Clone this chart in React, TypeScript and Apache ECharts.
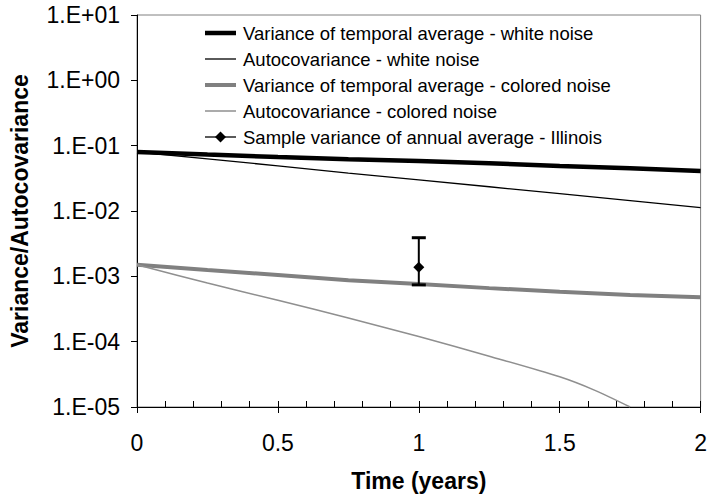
import React, { useEffect, useRef } from "react";
import * as echarts from "echarts";

const timeGrid = [0, 0.25, 0.5, 0.75, 1.0, 1.25, 1.5, 1.75, 2.0];
const varWhite = [0.08, 0.073, 0.067, 0.062, 0.058, 0.054, 0.049, 0.045, 0.041];
const autoWhite = [0.08, 0.063, 0.049, 0.038, 0.03, 0.0235, 0.0184, 0.0144, 0.0113];
const varColored = [1.5e-3, 1.25e-3, 1.05e-3, 8.7e-4, 7.6e-4, 6.6e-4, 5.8e-4, 5.2e-4, 4.8e-4];
const autoColoredTime = [0, 0.25, 0.5, 0.75, 1.0, 1.25, 1.5, 1.625, 1.75];
const autoColored = [1.5e-3, 7.9e-4, 4.3e-4, 2.3e-4, 1.2e-4, 6.0e-5, 2.9e-5, 1.8e-5, 1.0e-5];
const sampleTime = [1];
const sampleMean = [1.38e-3];
const sampleLow = [7.4e-4];
const sampleHigh = [3.9e-3];

const seriesNames = [
  "Variance of temporal average - white noise",
  "Autocovariance - white noise",
  "Variance of temporal average - colored noise",
  "Autocovariance - colored noise",
  "Sample variance of annual average - Illinois",
];
const seriesColors = ["#000000", "#000000", "#808080", "#8f8f8f", "#000000"];
const seriesWidths = [4.5, 1.3, 4, 1.5, 1.3];

const FONT = "'Liberation Sans', Arial, sans-serif";

function pairs(xs: number[], ys: number[]) {
  return ys.map((y, i) => [xs[i], y]);
}

function fmtLog(v: number) {
  const k = Math.round(Math.log10(v));
  const s = k >= 0 ? "+" : "-";
  const a = Math.abs(k);
  return "1.E" + s + (a < 10 ? "0" + a : "" + a);
}

export default function App() {
  const ref = useRef<HTMLDivElement>(null);
  useEffect(() => {
    if (!ref.current) return;
    const chart = echarts.init(ref.current, null, { renderer: "svg" });

    const legX1 = 205;
    const legX2 = 236;
    const legTextX = 243;
    const legY0 = 33;
    const legStep = 26;
    const legendGraphics: any[] = [];
    seriesNames.forEach((name, i) => {
      const y = legY0 + i * legStep;
      legendGraphics.push({
        type: "line",
        shape: { x1: legX1, y1: y, x2: legX2, y2: y },
        style: { stroke: seriesColors[i], lineWidth: seriesWidths[i] },
        silent: true,
      });
      if (i === 4) {
        const cx = (legX1 + legX2) / 2;
        const r = 5.5;
        legendGraphics.push({
          type: "polygon",
          shape: { points: [[cx, y - r], [cx + r, y], [cx, y + r], [cx - r, y]] },
          style: { fill: "#000" },
          silent: true,
        });
      }
      legendGraphics.push({
        type: "text",
        x: legTextX,
        y: y,
        style: {
          text: name,
          fill: "#000",
          font: "18.5px " + FONT,
          verticalAlign: "middle",
          align: "left",
        },
        silent: true,
      });
    });

    const option: any = {
      animation: false,
      backgroundColor: "#ffffff",
      grid: {
        left: 130,
        right: 5,
        top: 15,
        bottom: 87,
        show: true,
        borderColor: "#808080",
        borderWidth: 1,
        backgroundColor: "transparent",
      },
      graphic: legendGraphics,
      xAxis: [
        {
          type: "value",
          min: 0,
          max: 2,
          interval: 0.5,
          position: "bottom",
          name: "Time (years)",
          nameLocation: "middle",
          nameGap: 62,
          nameTextStyle: { fontFamily: FONT, fontSize: 23, fontWeight: "bold", color: "#000" },
          axisLine: { lineStyle: { color: "#000", width: 1 } },
          axisTick: { show: true, inside: false, length: 6, lineStyle: { color: "#000" } },
          axisLabel: {
            fontFamily: FONT,
            fontSize: 23,
            color: "#000",
            margin: 24,
            formatter: (v: number) => String(v),
          },
          splitLine: { show: false },
        },
        {
          type: "value",
          min: 0,
          max: 2,
          interval: 0.1,
          position: "bottom",
          axisLine: { show: false },
          axisTick: { show: true, inside: true, length: 6, lineStyle: { color: "#000" } },
          axisLabel: { show: false },
          splitLine: { show: false },
        },
      ],
      yAxis: {
        type: "log",
        logBase: 10,
        min: 1e-5,
        max: 10,
        name: "Variance/Autocovariance",
        nameLocation: "middle",
        nameGap: 106,
        nameTextStyle: { fontFamily: FONT, fontSize: 23, fontWeight: "bold", color: "#000" },
        axisLine: { show: true, lineStyle: { color: "#000", width: 1 } },
        axisTick: { show: true, inside: false, length: 6, lineStyle: { color: "#000" } },
        axisLabel: {
          fontFamily: FONT,
          fontSize: 23,
          color: "#000",
          margin: 17,
          formatter: (v: number) => fmtLog(v),
        },
        splitLine: { show: false },
        minorTick: { show: false },
      },
      series: [
        {
          name: seriesNames[0],
          type: "line",
          symbol: "none",
          data: pairs(timeGrid, varWhite),
          lineStyle: { color: seriesColors[0], width: seriesWidths[0] },
        },
        {
          name: seriesNames[1],
          type: "line",
          symbol: "none",
          data: pairs(timeGrid, autoWhite),
          lineStyle: { color: seriesColors[1], width: seriesWidths[1] },
        },
        {
          name: seriesNames[2],
          type: "line",
          symbol: "none",
          data: pairs(timeGrid, varColored),
          lineStyle: { color: seriesColors[2], width: seriesWidths[2] },
        },
        {
          name: seriesNames[3],
          type: "line",
          symbol: "none",
          smooth: 0.3,
          data: pairs(autoColoredTime, autoColored),
          lineStyle: { color: seriesColors[3], width: seriesWidths[3] },
        },
        {
          type: "custom",
          silent: true,
          data: sampleTime.map((t, i) => [t, sampleLow[i], sampleHigh[i]]),
          renderItem: (params: any, api: any) => {
            const x = api.value(0);
            const lo = api.coord([x, api.value(1)]);
            const hi = api.coord([x, api.value(2)]);
            const w = 7;
            return {
              type: "group",
              children: [
                { type: "line", shape: { x1: lo[0], y1: lo[1], x2: hi[0], y2: hi[1] }, style: { stroke: "#000", lineWidth: 2 } },
                { type: "rect", shape: { x: lo[0] - w, y: lo[1] - 1.5, width: 2 * w, height: 3 }, style: { fill: "#000" } },
                { type: "rect", shape: { x: hi[0] - w, y: hi[1] - 1.5, width: 2 * w, height: 3 }, style: { fill: "#000" } },
              ],
            };
          },
          z: 5,
        },
        {
          name: seriesNames[4],
          type: "line",
          symbol: "diamond",
          symbolSize: 11,
          showSymbol: true,
          data: pairs(sampleTime, sampleMean),
          lineStyle: { color: "#000", width: 1.3 },
          itemStyle: { color: "#000" },
          z: 6,
        },
      ],
    };
    chart.setOption(option);
    return () => chart.dispose();
  }, []);
  return (
    <div
      ref={ref}
      style={{ position: "absolute", left: 0, top: 0, width: 710, height: 497 }}
    />
  );
}
